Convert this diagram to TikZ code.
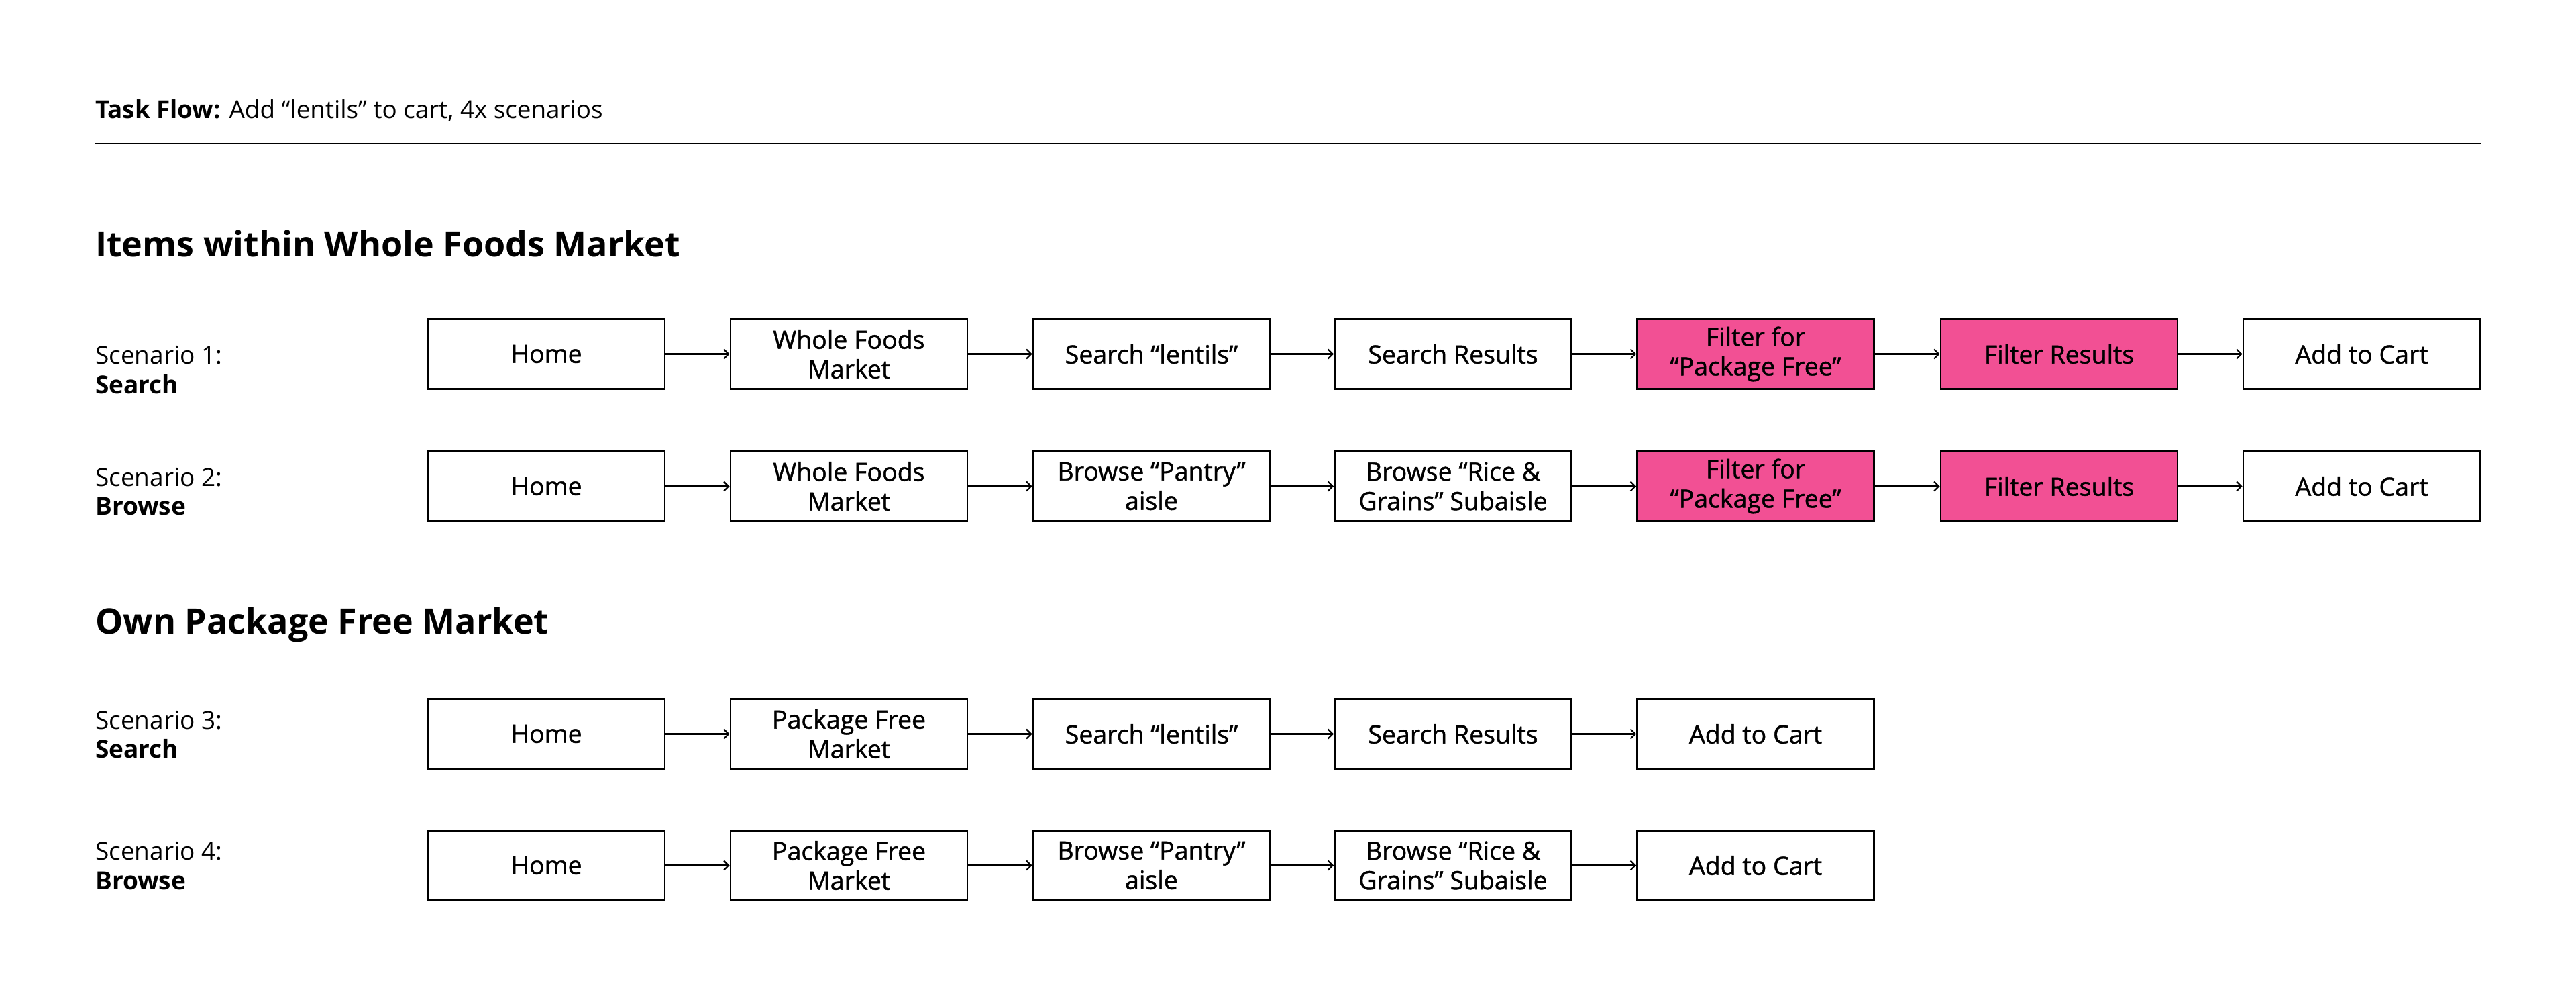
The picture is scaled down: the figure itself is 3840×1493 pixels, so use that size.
\documentclass[tikz,border=0pt]{standalone}
\usepackage{fontspec}
\setmainfont{Open Sans}
\newfontfamily\boxfont{Open Sans}[FakeBold=1.2]
\usetikzlibrary{arrows.meta}
\definecolor{hot}{RGB}{242,80,148}
\tikzset{
  stepbox/.style={draw=black, line width=2.8pt, minimum width=353pt, minimum height=104pt, inner sep=0pt, align=center, font=\boxfont\fontsize{37.5}{44}\selectfont, fill=white},
  hotbox/.style={stepbox, fill=hot},
  arr/.style={line width=2.2pt, -{Straight Barb[length=7pt,width=14pt,line width=2.2pt]}},
  scen/.style={anchor=base west, inner sep=0pt, font=\fontsize{37}{43}\selectfont},
  head/.style={anchor=base west, inner sep=0pt, font=\fontsize{52}{60}\selectfont\bfseries},
}
\begin{document}
\begin{tikzpicture}[x=1pt,y=-1pt]
\useasboundingbox[fill=white] (0,0) rectangle (3840,1493);
\node[anchor=base west, inner sep=0pt, font=\fontsize{36.8}{44}\selectfont] (title) at (142,176.7) {\textbf{Task Flow:} Add “lentils” to cart, 4x scenarios};
\coordinate (r1) at (141,214);
\coordinate (r2) at (3698,214);
\draw[line width=2.6pt] (r1) -- (r2);
\node[head] (h1) at (142,382.3) {Items within Whole Foods Market};
\node[head] (h2) at (142,944.5) {Own Package Free Market};
\node[scen] (s1) at (142,542.7) {Scenario 1:};
\node[scen] (s1b) at (142,586) {\textbf{Search}};
\node[scen] (s2) at (142,724) {Scenario 2:};
\node[scen] (s2b) at (142,767.3) {\textbf{Browse}};
\node[scen] (s3) at (142,1086) {Scenario 3:};
\node[scen] (s3b) at (142,1129.3) {\textbf{Search}};
\node[scen] (s4) at (142,1281.7) {Scenario 4:};
\node[scen] (s4b) at (142,1325) {\textbf{Browse}};
% row 1
\node[stepbox] (a1) at (814.5,527.5) {Home};
\node[stepbox] (a2) at (1265.5,527.5) {Whole Foods\\Market};
\node[stepbox] (a3) at (1716.5,527.5) {Search “lentils”};
\node[stepbox] (a4) at (2166,527.5) {Search Results};
\node[hotbox] (a5) at (2617,527.5) {Filter for\\“Package Free”};
\node[hotbox] (a6) at (3069.5,527.5) {Filter Results};
\node[stepbox] (a7) at (3520.5,527.5) {Add to Cart};
% row 2
\node[stepbox] (b1) at (814.5,724.5) {Home};
\node[stepbox] (b2) at (1265.5,724.5) {Whole Foods\\Market};
\node[stepbox] (b3) at (1716.5,724.5) {Browse “Pantry”\\aisle};
\node[stepbox] (b4) at (2166,724.5) {Browse “Rice \&\\Grains” Subaisle};
\node[hotbox] (b5) at (2617,724.5) {Filter for\\“Package Free”};
\node[hotbox] (b6) at (3069.5,724.5) {Filter Results};
\node[stepbox] (b7) at (3520.5,724.5) {Add to Cart};
% row 3
\node[stepbox] (c1) at (814.5,1093.5) {Home};
\node[stepbox] (c2) at (1265.5,1093.5) {Package Free\\Market};
\node[stepbox] (c3) at (1716.5,1093.5) {Search “lentils”};
\node[stepbox] (c4) at (2166,1093.5) {Search Results};
\node[stepbox] (c5) at (2617,1093.5) {Add to Cart};
% row 4
\node[stepbox] (d1) at (814.5,1289.5) {Home};
\node[stepbox] (d2) at (1265.5,1289.5) {Package Free\\Market};
\node[stepbox] (d3) at (1716.5,1289.5) {Browse “Pantry”\\aisle};
\node[stepbox] (d4) at (2166,1289.5) {Browse “Rice \&\\Grains” Subaisle};
\node[stepbox] (d5) at (2617,1289.5) {Add to Cart};
% arrows
\foreach \r/\n in {a/7,b/7,c/5,d/5}{
  \foreach \i [evaluate=\i as \j using int(\i+1)] in {1,...,6}{
    \ifnum\i<\n
      \draw[arr] (\r\i.east) -- (\r\j.west);
    \fi
  }
}
\end{tikzpicture}
\end{document}
